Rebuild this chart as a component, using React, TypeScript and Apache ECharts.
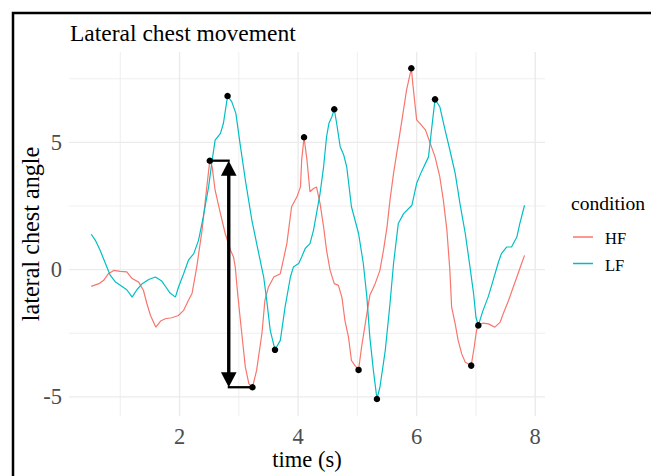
import React, { useEffect, useRef } from "react";
import * as echarts from "echarts";

const FONT = "'Liberation Serif', 'Times New Roman', serif";

const titleText = "Lateral chest movement";
const xTitle = "time (s)";
const yTitle = "lateral chest angle";
const legendTitle = "condition";
const conditions = ["HF", "LF"];
const colors = ["#F8766D", "#00BFC4"];

const xMajor = [2, 4, 6, 8];
const xMinor = [1, 3, 5, 7];
const yMajor = [-5, 0, 5];
const yMinor = [-2.5, 2.5, 7.5];

const hfTime = [
  0.51, 0.64, 0.72, 0.8, 0.89, 1.0, 1.11, 1.2, 1.31, 1.39, 1.45, 1.51, 1.6, 1.68, 1.76, 1.87, 1.98, 2.07,
  2.15, 2.21, 2.29, 2.38, 2.46, 2.51, 2.55, 2.6, 2.69, 2.77, 2.86, 2.91, 2.94, 2.98, 3.05, 3.11, 3.17,
  3.23, 3.3, 3.39, 3.44, 3.5, 3.59, 3.7, 3.75, 3.81, 3.89, 3.98, 4.04, 4.06, 4.1, 4.15, 4.2, 4.26, 4.31,
  4.37, 4.43, 4.48, 4.54, 4.61, 4.68, 4.74, 4.79, 4.85, 4.9, 4.96, 5.02, 5.07, 5.16, 5.21, 5.3, 5.38,
  5.44, 5.5, 5.55, 5.61, 5.69, 5.76, 5.83, 5.91, 5.94, 6.0, 6.08, 6.15, 6.2, 6.31, 6.39, 6.45, 6.51,
  6.56, 6.59, 6.65, 6.7, 6.76, 6.82, 6.92, 6.97, 7.01, 7.04, 7.12, 7.21, 7.26, 7.32, 7.41, 7.46, 7.55,
  7.63, 7.71, 7.77, 7.82,
];
const hfAngle = [
  -0.66, -0.55, -0.42, -0.16, -0.03, -0.07, -0.09, -0.35, -0.49, -0.81, -1.34, -1.8, -2.26, -2.02, -1.93,
  -1.89, -1.8, -1.6, -1.2, -0.94, 0.1, 1.55, 3.25, 4.28, 4.04, 3.12, 2.2, 1.42, 0.76, 0.5, 0.1, -0.94,
  -2.52, -3.83, -4.49, -4.62, -3.96, -2.5, -1.21, -0.68, -0.29, -0.16, 0.37, 1.02, 2.47, 2.86, 3.25, 4.3,
  5.2, 4.3, 3.06, 3.19, 3.25, 2.6, 1.68, 0.76, -0.03, -0.55, -0.62, -1.1, -2.0, -2.65, -3.57, -3.77,
  -3.94, -3.05, -1.73, -1.01, -0.55, -0.03, 0.76, 1.68, 2.73, 3.78, 4.96, 6.0, 7.06, 7.91, 7.19, 5.88,
  5.68, 5.48, 5.15, 4.43, 3.65, 2.73, 1.55, -0.03, -1.47, -2.13, -2.78, -3.31, -3.64, -3.77, -3.05,
  -2.39, -2.2, -2.1, -2.13, -2.19, -2.26, -2.06, -1.73, -1.21, -0.68, -0.16, 0.24, 0.56,
];

const lfTime = [
  0.51, 0.58, 0.66, 0.75, 0.83, 0.92, 1.03, 1.11, 1.2, 1.28, 1.37, 1.48, 1.59, 1.7, 1.79, 1.84, 1.93,
  1.98, 2.07, 2.15, 2.24, 2.32, 2.4, 2.49, 2.55, 2.6, 2.69, 2.74, 2.81, 2.88, 2.95, 3.02, 3.11, 3.22,
  3.33, 3.42, 3.47, 3.53, 3.61, 3.7, 3.78, 3.87, 3.92, 4.01, 4.06, 4.12, 4.2, 4.26, 4.31, 4.37, 4.43,
  4.48, 4.52, 4.57, 4.61, 4.65, 4.71, 4.77, 4.82, 4.9, 5.02, 5.1, 5.16, 5.21, 5.27, 5.33, 5.38, 5.47,
  5.55, 5.61, 5.69, 5.78, 5.92, 6.0, 6.08, 6.2, 6.25, 6.31, 6.39, 6.48, 6.56, 6.65, 6.73, 6.82, 6.9,
  6.96, 7.0, 7.04, 7.12, 7.21, 7.29, 7.38, 7.43, 7.52, 7.6, 7.69, 7.74, 7.82,
];
const lfAngle = [
  1.39, 1.15, 0.76, 0.24, -0.22, -0.49, -0.66, -0.79, -1.08, -0.79, -0.55, -0.39, -0.29, -0.45, -0.75,
  -0.92, -1.08, -0.7, -0.15, 0.37, 0.63, 1.15, 2.07, 3.25, 4.3, 5.09, 5.35, 5.75, 6.82, 6.6, 6.14, 4.96,
  3.52, 1.94, 0.7, -0.3, -1.2, -2.39, -3.15, -2.78, -1.47, -0.29, 0.1, 0.24, 0.5, 0.83, 1.02, 1.55, 2.2,
  2.99, 4.04, 5.22, 5.75, 6.01, 6.3, 5.75, 4.83, 4.5, 4.04, 2.47, 1.42, 0.24, -1.08, -2.65, -3.96, -5.08,
  -4.62, -3.18, -1.34, 0.24, 1.81, 2.2, 2.53, 3.39, 3.84, 4.43, 5.48, 6.69, 6.4, 5.48, 4.7, 3.78, 2.6,
  1.42, 0.1, -0.94, -1.87, -2.19, -1.6, -1.05, -0.42, 0.3, 0.63, 0.89, 0.89, 1.28, 1.81, 2.53,
];

const dotTime = [2.51, 2.81, 3.23, 3.61, 4.1, 4.61, 5.02, 5.33, 5.91, 6.31, 6.92, 7.04];
const dotAngle = [4.28, 6.82, -4.62, -3.15, 5.2, 6.3, -3.94, -5.08, 7.91, 6.69, -3.77, -2.19];

// annotation arrow: x, top, bottom, left end of top bar, right end of bottom bar
const arrowX = 2.83;
const arrowTop = 4.28;
const arrowBottom = -4.62;
const arrowLeft = 2.51;
const arrowRight = 3.23;

const X_MIN = 0.135;
const X_MAX = 8.165;
const Y_MIN = -5.75;
const Y_MAX = 8.55;

function zip(a: number[], b: number[]) {
  return a.map((v, i) => [v, b[i]]);
}

function buildOption(): any {
  const vGrid = [...xMajor.map((v) => [v, 0.5, 1]), ...xMinor.map((v) => [v, 0.5, 0])];
  const hGrid = [...yMajor.map((v) => [1, v, 1]), ...yMinor.map((v) => [1, v, 0])];
  const gridStyle = (major: number) => ({ stroke: "#EBEBEB", lineWidth: major ? 1.4 : 0.8 });

  return {
    animation: false,
    backgroundColor: "#ffffff",
    title: {
      text: titleText,
      left: 70,
      top: 21,
      padding: 0,
      textStyle: { fontFamily: FONT, fontSize: 23.5, fontWeight: "normal", color: "#000" },
    },
    grid: { left: 69, right: 106, top: 52, bottom: 60, containLabel: false, outerBoundsMode: "none" },
    xAxis: {
      type: "value",
      min: X_MIN,
      max: X_MAX,
      axisLine: { show: false },
      axisTick: { show: false },
      splitLine: { show: false },
      axisLabel: { show: false },
    },
    yAxis: {
      type: "value",
      min: Y_MIN,
      max: Y_MAX,
      axisLine: { show: false },
      axisTick: { show: false },
      splitLine: { show: false },
      axisLabel: { show: false },
    },
    series: [
      {
        type: "custom",
        name: "vgrid",
        silent: true,
        z: 0,
        encode: { x: 0, y: 1 },
        data: vGrid,
        renderItem: (params: any, api: any) => {
          const cs = params.coordSys;
          const px = api.coord([api.value(0), 0])[0];
          return {
            type: "line",
            shape: { x1: px, y1: cs.y, x2: px, y2: cs.y + cs.height },
            style: gridStyle(api.value(2)),
          };
        },
      },
      {
        type: "custom",
        name: "hgrid",
        silent: true,
        z: 0,
        encode: { x: 0, y: 1 },
        data: hGrid,
        renderItem: (params: any, api: any) => {
          const cs = params.coordSys;
          const py = api.coord([1, api.value(1)])[1];
          return {
            type: "line",
            shape: { x1: cs.x, y1: py, x2: cs.x + cs.width, y2: py },
            style: gridStyle(api.value(2)),
          };
        },
      },
      {
        type: "custom",
        name: "ylabels",
        silent: true,
        z: 1,
        encode: { x: 0, y: 1 },
        data: yMajor.map((v) => [X_MIN, v]),
        renderItem: (params: any, api: any) => {
          const v = api.value(1);
          const p = api.coord([X_MIN, v]);
          return {
            type: "text",
            x: p[0] - 7,
            y: p[1],
            style: {
              text: String(v),
              font: `22.5px ${FONT}`,
              fill: "#4D4D4D",
              align: "right",
              verticalAlign: "middle",
            },
          };
        },
      },
      {
        type: "custom",
        name: "xlabels",
        silent: true,
        z: 1,
        encode: { x: 0, y: 1 },
        data: xMajor.map((v) => [v, Y_MIN]),
        renderItem: (params: any, api: any) => {
          const v = api.value(0);
          const p = api.coord([v, Y_MIN]);
          return {
            type: "text",
            x: p[0],
            y: p[1] + 20,
            style: {
              text: String(v),
              font: `22.5px ${FONT}`,
              fill: "#4D4D4D",
              align: "center",
              verticalAlign: "middle",
            },
          };
        },
      },
      {
        type: "line",
        name: conditions[0],
        data: zip(hfTime, hfAngle),
        showSymbol: false,
        symbol: "none",
        z: 2,
        lineStyle: { color: colors[0], width: 1.2 },
        itemStyle: { color: colors[0] },
      },
      {
        type: "line",
        name: conditions[1],
        data: zip(lfTime, lfAngle),
        showSymbol: false,
        symbol: "none",
        z: 2,
        lineStyle: { color: colors[1], width: 1.2 },
        itemStyle: { color: colors[1] },
      },
      {
        type: "custom",
        name: "arrow",
        silent: true,
        z: 3,
        encode: { x: [0, 3, 4], y: [1, 2] },
        data: [[arrowX, arrowTop, arrowBottom, arrowLeft, arrowRight]],
        renderItem: (params: any, api: any) => {
          const x = api.value(0);
          const pTop = api.coord([x, api.value(1)]);
          const pBot = api.coord([x, api.value(2)]);
          const pL = api.coord([api.value(3), api.value(1)]);
          const pR = api.coord([api.value(4), api.value(2)]);
          const hw = 7.8;
          const hh = 15;
          return {
            type: "group",
            children: [
              {
                type: "line",
                shape: { x1: pL[0], y1: pTop[1], x2: pTop[0] + 1, y2: pTop[1] },
                style: { stroke: "#000", lineWidth: 2.3 },
              },
              {
                type: "line",
                shape: { x1: pBot[0] - 1, y1: pBot[1], x2: pR[0], y2: pBot[1] },
                style: { stroke: "#000", lineWidth: 2.3 },
              },
              {
                type: "line",
                shape: { x1: pTop[0], y1: pTop[1] + hh - 1, x2: pBot[0], y2: pBot[1] - hh + 1 },
                style: { stroke: "#000", lineWidth: 3.4 },
              },
              {
                type: "polygon",
                shape: {
                  points: [
                    [pTop[0], pTop[1]],
                    [pTop[0] - hw, pTop[1] + hh],
                    [pTop[0] + hw, pTop[1] + hh],
                  ],
                },
                style: { fill: "#000" },
              },
              {
                type: "polygon",
                shape: {
                  points: [
                    [pBot[0], pBot[1]],
                    [pBot[0] - hw, pBot[1] - hh],
                    [pBot[0] + hw, pBot[1] - hh],
                  ],
                },
                style: { fill: "#000" },
              },
            ],
          };
        },
      },
      {
        type: "scatter",
        name: "extrema",
        data: zip(dotTime, dotAngle),
        symbol: "circle",
        symbolSize: 6.5,
        z: 4,
        itemStyle: { color: "#000", opacity: 1 },
        silent: true,
      },
    ],
    graphic: [
      {
        type: "text",
        x: 307,
        y: 459.5,
        style: {
          text: xTitle,
          font: `22.5px ${FONT}`,
          fill: "#000",
          align: "center",
          verticalAlign: "middle",
        },
      },
      {
        type: "text",
        x: 30,
        y: 234,
        rotation: Math.PI / 2,
        style: {
          text: yTitle,
          font: `24.2px ${FONT}`,
          fill: "#000",
          align: "center",
          verticalAlign: "middle",
        },
      },
      {
        type: "text",
        x: 571,
        y: 203.5,
        style: {
          text: legendTitle,
          font: `19.6px ${FONT}`,
          fill: "#000",
          verticalAlign: "middle",
          align: "left",
        },
      },
      {
        type: "line",
        shape: { x1: 573, y1: 237, x2: 593, y2: 237 },
        style: { stroke: colors[0], lineWidth: 1.5 },
      },
      {
        type: "text",
        x: 605,
        y: 238.5,
        style: {
          text: conditions[0],
          font: `16.5px ${FONT}`,
          fill: "#000",
          verticalAlign: "middle",
          align: "left",
        },
      },
      {
        type: "line",
        shape: { x1: 573, y1: 263.5, x2: 593, y2: 263.5 },
        style: { stroke: colors[1], lineWidth: 1.5 },
      },
      {
        type: "text",
        x: 605,
        y: 265,
        style: {
          text: conditions[1],
          font: `16.5px ${FONT}`,
          fill: "#000",
          verticalAlign: "middle",
          align: "left",
        },
      },
      {
        type: "rect",
        z: 100,
        shape: { x: 13, y: 13, width: 700, height: 520 },
        style: { fill: "none", stroke: "#000", lineWidth: 2.5 },
      },
    ],
  };
}

export default function App() {
  const ref = useRef<HTMLDivElement>(null);
  useEffect(() => {
    if (!ref.current) return;
    const chart = echarts.init(ref.current, null, { renderer: "svg" });
    chart.setOption(buildOption());
    return () => chart.dispose();
  }, []);
  return (
    <div
      ref={ref}
      style={{ position: "fixed", left: 0, top: 0, width: 651, height: 476, background: "#fff" }}
    />
  );
}
